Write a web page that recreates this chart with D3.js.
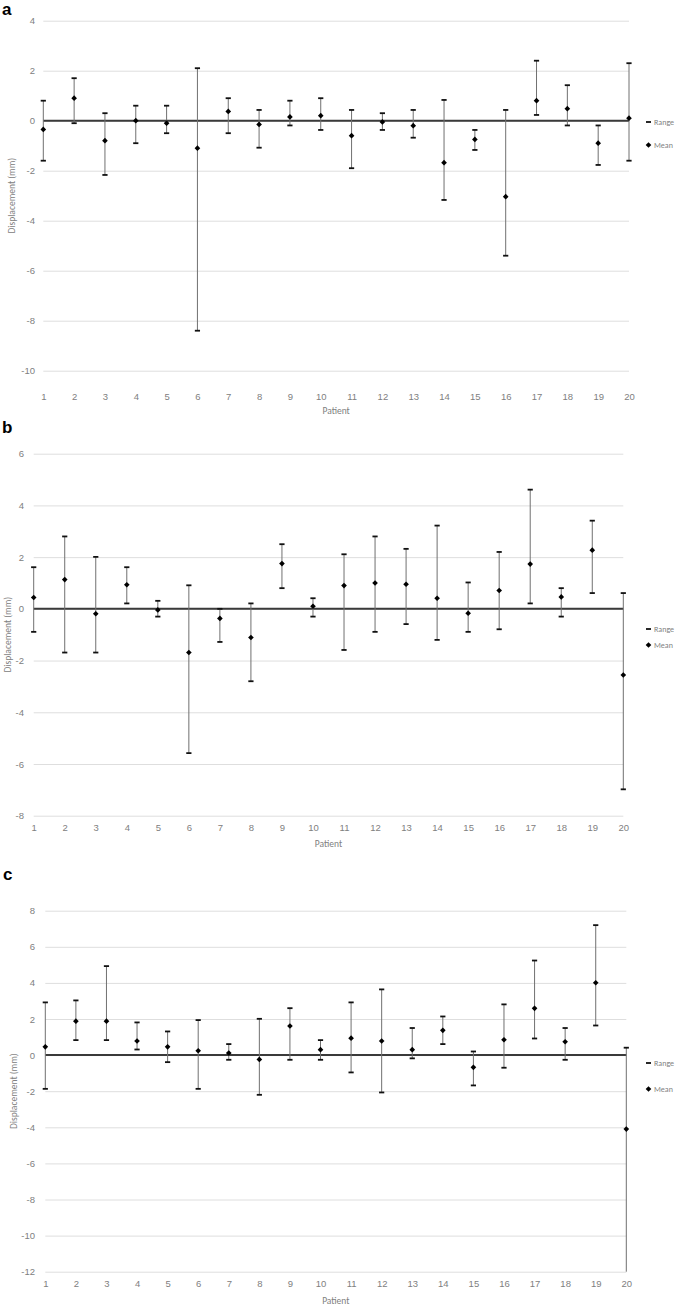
<!DOCTYPE html>
<html><head><meta charset="utf-8">
<script src="https://cdn.jsdelivr.net/npm/d3@7"></script>
<style>
body{margin:0;background:#fff;}
svg{display:block;font-family:Carlito,Lato,"Liberation Sans",sans-serif;}
</style></head>
<body>
<svg id="chart" width="676" height="1306"></svg>
<script>
// ---- data ----
const patients = d3.range(1, 21).map(String);

const aMean = [-0.35,0.9,-0.8,0,-0.1,-1.1,0.37,-0.15,0.15,0.2,-0.6,-0.05,-0.2,-1.68,-0.75,-3.04,0.8,0.48,-0.9,0.1];
const aMax  = [0.8,1.7,0.3,0.6,0.6,2.1,0.9,0.43,0.8,0.9,0.43,0.3,0.43,0.83,-0.37,0.43,2.4,1.42,-0.19,2.3];
const aMin  = [-1.6,-0.1,-2.17,-0.9,-0.5,-8.4,-0.5,-1.08,-0.19,-0.37,-1.9,-0.37,-0.68,-3.17,-1.17,-5.4,0.23,-0.19,-1.77,-1.6];

const bMean = [0.44,1.13,-0.19,0.93,-0.04,-1.69,-0.37,-1.11,1.75,0.1,0.9,1.0,0.95,0.41,-0.17,0.71,1.73,0.46,2.27,-2.56];
const bMax  = [1.61,2.8,2.01,1.61,0.31,0.91,0,0.21,2.5,0.41,2.11,2.8,2.32,3.22,1.02,2.2,4.61,0.8,3.41,0.61];
const bMin  = [-0.89,-1.69,-1.69,0.21,-0.3,-5.58,-1.28,-2.8,0.8,-0.3,-1.59,-0.89,-0.59,-1.2,-0.89,-0.79,0.21,-0.3,0.61,-6.98];

const cMean = [0.46,1.88,1.88,0.78,0.46,0.24,0.11,-0.24,1.61,0.3,0.94,0.78,0.3,1.37,-0.68,0.85,2.59,0.74,4.01,-4.1];
const cMax  = [2.92,3.03,4.93,1.81,1.31,1.94,0.61,2.01,2.6,0.83,2.92,3.64,1.5,2.14,0.2,2.81,5.24,1.5,7.2,0.41];
const cMin  = [-1.87,0.83,0.83,0.31,-0.39,-1.87,-0.26,-2.2,-0.26,-0.26,-0.96,-2.07,-0.18,0.61,-1.68,-0.7,0.92,-0.26,1.64,-12];

const aTicks = [4,2,0,-2,-4,-6,-8,-10];
const bTicks = [6,4,2,0,-2,-4,-6,-8];
const cTicks = [8,6,4,2,0,-2,-4,-6,-8,-10,-12];

const panelLabels = ["a","b","c"];
const legendLabels = ["Range","Mean"];
const xTitle = "Patient";
const yTitle = "Displacement (mm)";

// ---- layout ----
const panels = [
  {label:"a", mean:aMean, max:aMax, min:aMin, ticks:aTicks,
   x0:43.3, x1:629, yTop:20.7, yBot:370.7, labY:15, labX:2,
   xLabPad:23, yTitleX:12, tickEnd:35, xTitleY:414, legY:[122,145]},
  {label:"b", mean:bMean, max:bMax, min:bMin, ticks:bTicks,
   x0:33.7, x1:623.3, yTop:453.7, yBot:815.7, labY:433, labX:2,
   xLabPad:9, yTitleX:8, tickEnd:24, xTitleY:847, legY:[629,645]},
  {label:"c", mean:cMean, max:cMax, min:cMin, ticks:cTicks,
   x0:45.3, x1:626.3, yTop:910.7, yBot:1271.7, labY:880, labX:3,
   xLabPad:9, yTitleX:14, tickEnd:35, xTitleY:1304, legY:[1063,1089]}
];

const svg = d3.select("#chart");
const textGray = "#808080";

panels.forEach((p, pi) => {
  const g = svg.append("g");
  const x = d3.scalePoint().domain(patients).range([p.x0, p.x1]);
  const ticks = p.ticks;
  const y = d3.scaleLinear().domain([d3.min(ticks), d3.max(ticks)]).range([p.yBot, p.yTop]);

  // panel label
  g.append("text").attr("x", p.labX).attr("y", p.labY)
    .attr("font-family","Liberation Sans, Arial, sans-serif")
    .attr("font-weight","bold").attr("font-size",17).attr("fill","#000")
    .text(panelLabels[pi]);

  // y axis with gridlines
  const yAx = g.append("g").attr("transform", `translate(${p.x0},0)`)
    .call(d3.axisLeft(y).tickValues(ticks).tickFormat(d3.format("d"))
      .tickSize(-(p.x1 - p.x0)).tickPadding(p.x0 - p.tickEnd));
  yAx.select(".domain").remove();
  yAx.selectAll(".tick line").attr("stroke","#dedede").attr("stroke-width",1);
  yAx.selectAll(".tick text").attr("fill",textGray).attr("font-size",9.5)
    .text(d => d < 0 ? "-" + Math.abs(d) : d);

  // zero line
  g.append("line").attr("x1", p.x0).attr("x2", p.x1)
    .attr("y1", y(0)).attr("y2", y(0))
    .attr("stroke","#3a3a3a").attr("stroke-width",2);

  // x axis labels
  const xAx = g.append("g").attr("transform", `translate(0,${p.yBot})`)
    .call(d3.axisBottom(x).tickSize(0).tickPadding(p.xLabPad));
  xAx.select(".domain").remove();
  xAx.selectAll(".tick text").attr("fill",textGray).attr("font-size",9.5);

  // titles
  g.append("text").attr("x",(p.x0+p.x1)/2).attr("y",p.xTitleY)
    .attr("text-anchor","middle").attr("fill",textGray).attr("font-size",9.5)
    .text(xTitle);
  g.append("text")
    .attr("transform",`translate(${p.yTitleX},${(p.yTop+p.yBot)/2}) rotate(-90)`)
    .attr("text-anchor","middle").attr("dy","0.35em")
    .attr("fill",textGray).attr("font-size",9.5).text(yTitle);

  const data = patients.map((k,i)=>({k, mean:p.mean[i], max:p.max[i], min:p.min[i]}));

  // range lines
  g.selectAll(".rng").data(data).join("line")
    .attr("x1", d=>x(d.k)).attr("x2", d=>x(d.k))
    .attr("y1", d=>y(d.max)).attr("y2", d=>y(d.min))
    .attr("stroke","#707070").attr("stroke-width",1);
  // caps
  const capW = 2.6;
  ["max","min"].forEach(key=>{
    g.selectAll(".cap-"+key).data(data.filter(d => y(d[key]) < p.yBot - 0.5 || key==="max")).join("line")
      .attr("x1", d=>x(d.k)-capW).attr("x2", d=>x(d.k)+capW)
      .attr("y1", d=>y(d[key])).attr("y2", d=>y(d[key]))
      .attr("stroke","#111").attr("stroke-width",1.8);
  });
  // means
  g.selectAll(".mean").data(data).join("rect")
    .attr("x",-2).attr("y",-2).attr("width",4).attr("height",4)
    .attr("transform", d=>`translate(${x(d.k)},${y(d.mean)}) rotate(45)`)
    .attr("fill","#000");

  // legend
  const lx = 646;
  g.append("line").attr("x1",lx).attr("x2",lx+5)
    .attr("y1",p.legY[0]).attr("y2",p.legY[0]).attr("stroke","#111").attr("stroke-width",1.8);
  g.append("text").attr("x",lx+8).attr("y",p.legY[0]).attr("dy","0.35em")
    .attr("fill",textGray).attr("font-size",8).text(legendLabels[0]);
  g.append("rect").attr("x",-2).attr("y",-2).attr("width",4).attr("height",4)
    .attr("transform",`translate(${lx+2.5},${p.legY[1]}) rotate(45)`).attr("fill","#000");
  g.append("text").attr("x",lx+8).attr("y",p.legY[1]).attr("dy","0.35em")
    .attr("fill",textGray).attr("font-size",8).text(legendLabels[1]);
});
</script>
</body></html>
